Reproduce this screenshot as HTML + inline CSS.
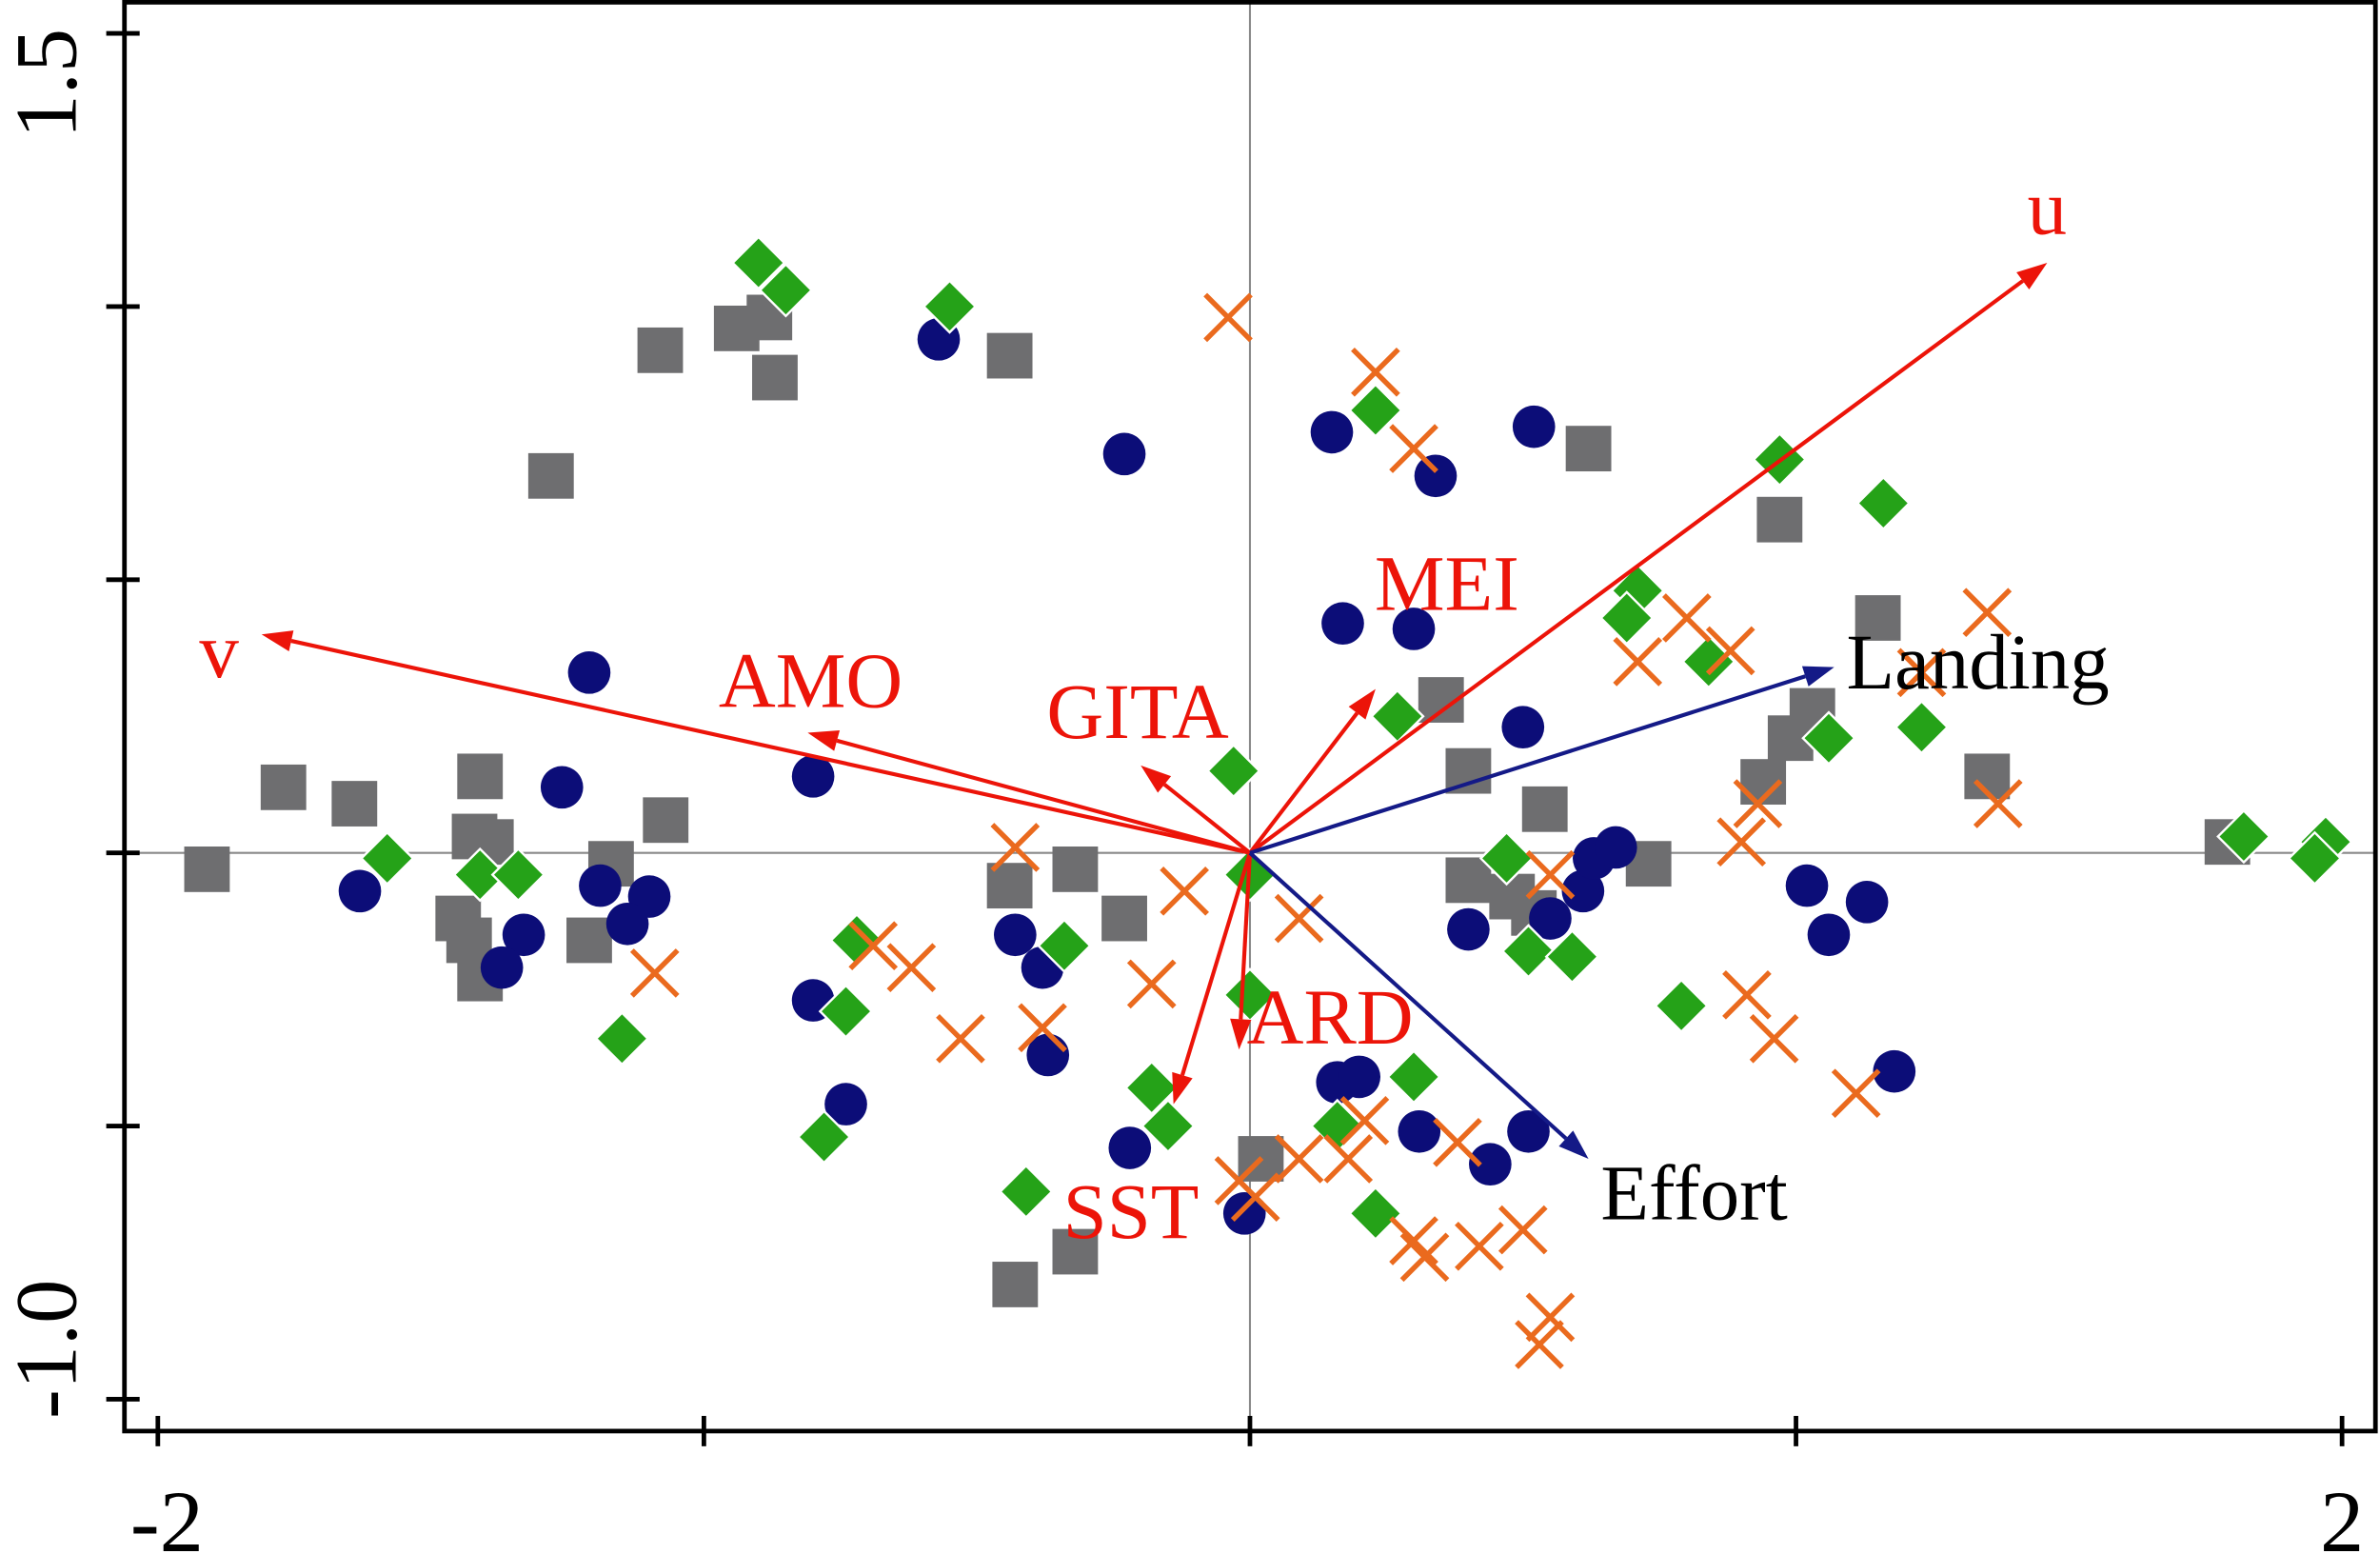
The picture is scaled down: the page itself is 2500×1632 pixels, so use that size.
<!DOCTYPE html>
<html><head><meta charset="utf-8"><style>
html,body{margin:0;padding:0;background:#fff;}
svg{display:block;font-family:"Liberation Serif","DejaVu Serif",serif;}
</style></head><body>
<svg id="chart" width="2500" height="1632" viewBox="0 0 1568 1024" preserveAspectRatio="none" xmlns="http://www.w3.org/2000/svg">
<g id="frame"></g>
<g id="marks"></g>
<g id="arrows"></g>
</svg>
<script>
const xTicks = [-2, -1, 0, 1, 2];
const yTicks = [1.5, 1.0, 0.5, 0, -0.5, -1.0];
const xTickLabels = ["-2", "2"];
const xTickLabelVals = [-2, 2];
const yTickLabels = ["1.5", "-1.0"];
const yTickLabelVals = [1.5, -1.0];

const circleX = [-0.57,-0.23,0.15,0.34,0.52,0.17,0.30,-1.21,-1.26,-0.80,0.50,-1.63,-1.19,-1.10,-1.14,-1.33,-1.37,-0.43,-0.38,-0.37,-0.80,-0.74,-0.22,-0.01,0.16,0.20,0.31,0.44,0.51,0.40,0.55,0.61,0.63,0.67,1.02,1.13,1.06,1.18];
const circleY = [0.94,0.73,0.77,0.69,0.78,0.42,0.41,0.33,0.12,0.14,0.23,-0.07,-0.06,-0.08,-0.13,-0.15,-0.21,-0.15,-0.21,-0.37,-0.27,-0.46,-0.54,-0.66,-0.42,-0.41,-0.51,-0.57,-0.51,-0.14,-0.12,-0.07,-0.01,0.01,-0.06,-0.09,-0.15,-0.40];

const squareX = [-1.08,-0.94,-0.88,-0.87,-0.44,-1.28,0.62,0.97,1.15,0.35,0.40,0.54,1.03,0.99,0.94,1.35,1.79,-1.91,-1.77,-1.64,-1.41,-1.42,-1.39,-1.07,-1.17,-1.45,-1.43,-1.41,-1.21,-0.44,-0.32,-0.23,0.40,0.48,0.52,0.73,0.02,-0.43,-0.32];
const squareY = [0.92,0.96,0.98,0.87,0.91,0.69,0.74,0.61,0.43,0.28,0.15,0.08,0.26,0.21,0.13,0.14,0.02,-0.03,0.12,0.09,0.14,0.03,0.02,0.06,-0.02,-0.12,-0.16,-0.23,-0.16,-0.06,-0.03,-0.12,-0.05,-0.08,-0.11,-0.02,-0.56,-0.79,-0.73];

const diamondX = [-0.90,-0.85,-0.55,0.23,0.97,1.16,0.71,0.69,0.84,1.23,1.06,0.27,-0.03,-1.58,-1.41,-1.34,0.00,0.47,-0.72,-0.34,0.51,0.59,0.79,0.00,-0.74,-1.15,-0.78,-0.18,-0.15,0.30,0.16,0.23,-0.41,1.82,1.97,1.95];
const diamondY = [1.08,1.03,1.00,0.81,0.72,0.64,0.48,0.43,0.35,0.23,0.21,0.25,0.15,-0.01,-0.04,-0.04,-0.04,-0.01,-0.16,-0.17,-0.18,-0.19,-0.28,-0.26,-0.29,-0.34,-0.52,-0.43,-0.50,-0.41,-0.50,-0.66,-0.62,0.03,0.02,-0.01];

const crossX = [-0.04,0.23,0.30,0.80,0.88,0.71,1.35,1.23,1.37,0.90,0.93,0.55,-0.43,-0.12,0.09,-0.69,-0.62,-1.09,-0.18,-0.38,-0.53,0.91,0.96,1.11,0.21,0.18,0.09,-0.02,0.01,0.38,0.30,0.32,0.42,0.50,0.55,0.53];
const crossY = [0.98,0.88,0.74,0.43,0.37,0.35,0.44,0.33,0.09,0.02,0.09,-0.04,0.01,-0.07,-0.12,-0.17,-0.21,-0.22,-0.24,-0.32,-0.34,-0.26,-0.34,-0.44,-0.49,-0.56,-0.56,-0.60,-0.63,-0.53,-0.71,-0.74,-0.72,-0.69,-0.85,-0.90];

const envNames = ["u","v","AMO","GITA","MEI","ARD","SST"];
const envX = [1.46,-1.81,-0.81,-0.20,0.23,-0.02,-0.14];
const envY = [1.08,0.40,0.22,0.16,0.30,-0.36,-0.46];
const fishNames = ["Landing","Effort"];
const fishX = [1.07,0.62];
const fishY = [0.34,-0.56];

const NS = "http://www.w3.org/2000/svg";
function X(v){ return 823.5 + v*359.75; }
function Y(v){ return 562 - v*360; }
function mk(tag, attrs, parent){
  const e = document.createElementNS(NS, tag);
  for (const k in attrs) e.setAttribute(k, attrs[k]);
  parent.appendChild(e); return e;
}
const frame = document.getElementById('frame');
const marks = document.getElementById('marks');
const arrows = document.getElementById('arrows');

let zl = mk('line',{x1:82,x2:1565,y1:Y(0),y2:Y(0),stroke:'#8a8a8a','stroke-width':1.3},frame);


zl = mk('line',{x1:X(0),x2:X(0),y1:1,y2:943,stroke:'#8a8a8a','stroke-width':1.3},frame);


let bx = mk('rect',{x:82,y:1.5,width:1483,height:941.5,fill:'none',stroke:'#000','stroke-width':3},frame);


xTicks.forEach(t=>{
  const l = mk('line',{x1:X(t),x2:X(t),y1:933,y2:953,stroke:'#000','stroke-width':3},frame);
  
  
});
yTicks.forEach(t=>{
  const l = mk('line',{x1:70,x2:92,y1:Y(t),y2:Y(t),stroke:'#000','stroke-width':3},frame);
  
  
});
xTickLabels.forEach((s,i)=>{
  const t = mk('text',{x:X(xTickLabelVals[i])+(i===0?6:0),y:1022,'font-size':58,'text-anchor':'middle',fill:'#000'},frame);
  t.textContent = s;
  
  
});
yTickLabels.forEach((s,i)=>{
  const cy = Y(yTickLabelVals[i]) + (i===0?33:-33);
  const t = mk('text',{x:0,y:0,'font-size':58,'text-anchor':'middle',fill:'#000',transform:`translate(50,${cy}) rotate(-90)`},frame);
  t.textContent = s;
  
  
});

squareX.forEach((v,i)=>{
  const s = mk('rect',{x:X(v)-15,y:Y(squareY[i])-15,width:30,height:30,fill:'#6e6e70'},marks);
  
  
});
circleX.forEach((v,i)=>{
  const c = mk('circle',{cx:X(v),cy:Y(circleY[i]),r:14,fill:'#0c0d78'},marks);
  
  
});
diamondX.forEach((v,i)=>{
  const cx=X(v), cy=Y(diamondY[i]), d=17;
  const p = mk('polygon',{points:`${cx},${cy-d} ${cx+d},${cy} ${cx},${cy+d} ${cx-d},${cy}`,fill:'#25a218',stroke:'#fff','stroke-width':1.5},marks);
  
  
});
crossX.forEach((v,i)=>{
  const cx=X(v), cy=Y(crossY[i]), d=15;
  const p = mk('path',{d:`M${cx-d},${cy-d}L${cx+d},${cy+d}M${cx-d},${cy+d}L${cx+d},${cy-d}`,stroke:'#ea6a1e','stroke-width':3.4,fill:'none'},marks);
  
  
});

function arrow(x, y, color){
  const x0=X(0), y0=Y(0), x1=X(x), y1=Y(y);
  const ang = Math.atan2(y1-y0, x1-x0), L=20, W=7;
  const bxp = x1 - L*Math.cos(ang), byp = y1 - L*Math.sin(ang);
  const g = mk('g',{},arrows);
  mk('line',{x1:x0,y1:y0,x2:bxp,y2:byp,stroke:color,'stroke-width':2.6},g);
  mk('polygon',{points:`${x1},${y1} ${bxp-W*Math.sin(ang)},${byp+W*Math.cos(ang)} ${bxp+W*Math.sin(ang)},${byp-W*Math.cos(ang)}`,fill:color},g);
  return g;
}
const envLabelDX = [0,-28,2,-2,47,60,-28];
const envLabelDY = [-37,10,-35,-36,-70,-22,70];
envNames.forEach((n,i)=>{
  const g = arrow(envX[i], envY[i], '#ec1409');
  
  
  const t = mk('text',{x:X(envX[i])+envLabelDX[i],y:Y(envY[i])+envLabelDY[i]+18,'font-size':52,'text-anchor':'middle',fill:'#ec1409'},arrows);
  t.textContent = n;
  
  
});
const fishLabelDX = [8,8];
const fishLabelDY = [14,40];
fishNames.forEach((n,i)=>{
  const g = arrow(fishX[i], fishY[i], '#141a87');
  
  
  const t = mk('text',{x:X(fishX[i])+fishLabelDX[i],y:Y(fishY[i])+fishLabelDY[i],'font-size':52,'text-anchor':'start',fill:'#000'},arrows);
  t.textContent = n;
  
  
});
</script>
</body></html>
